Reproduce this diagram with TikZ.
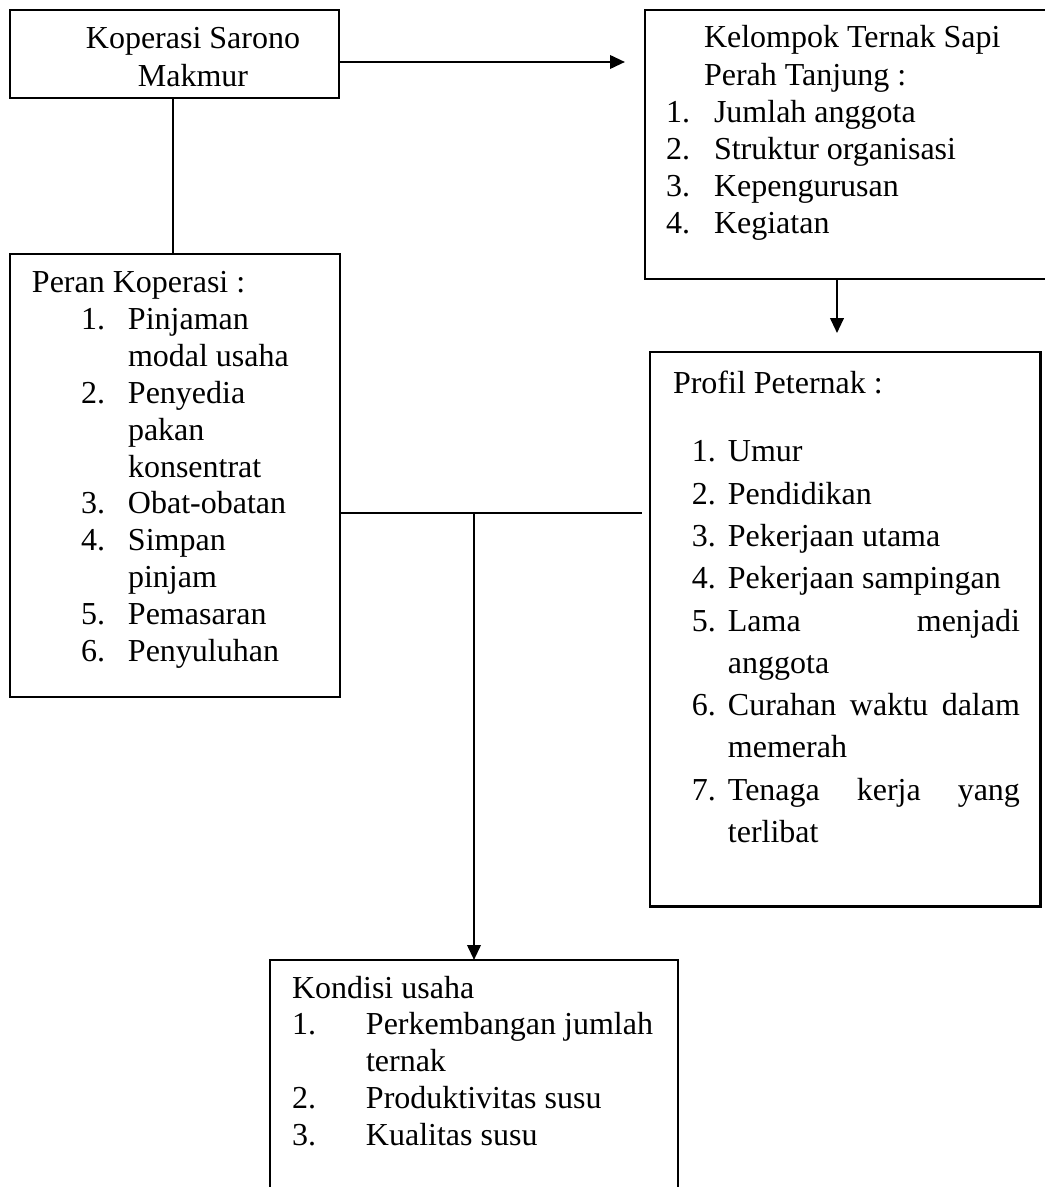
\documentclass[tikz,border=0pt]{standalone}
\usepackage{fontspec}
\setmainfont{Liberation Serif}
\usetikzlibrary{arrows.meta}

\begin{document}
\begin{tikzpicture}[x=0.375pt, y=-0.375pt,
                    line width=0.75pt,
                    font=\fontsize{12}{13.8}\selectfont]
    \tikzstyle{box}=[draw, rectangle, anchor=north west, inner sep=0pt, outer sep=0pt]
    \tikzstyle{boxbold}=[box, line width=1.1pt]
    \tikzstyle{txt}=[anchor=base west, inner sep=0pt]
    \tikzstyle{link}=[line width=0.4pt]
    \tikzstyle{flow}=[line width=0.95pt, -{Triangle[length=5.6pt, width=5pt]}]

    \useasboundingbox (0,0) rectangle (1044,1187);

    \node[box, minimum width=123.4pt, minimum height=33pt] (kop) at (10,10.5) {};
    \node[box, minimum width=151.9pt, minimum height=100.7pt] (kelompok) at (645,10.5) {};
    \node[box, minimum width=123.75pt, minimum height=165.9pt] (peran) at (10,254.5) {};
    \node[boxbold, minimum width=146.6pt, minimum height=208.1pt] (profil) at (650,352) {};
    \node[box, minimum width=153pt, minimum height=105pt] (kondisi) at (270,960) {};

    \node[anchor=base, inner sep=0pt, font=\fontsize{12}{14.25}\selectfont] (kopTxt) at (193,49)
        {\begin{tabular}[t]{@{}c@{}}Koperasi Sarono\\ Makmur\end{tabular}};
    \node[txt, font=\fontsize{12}{13.9}\selectfont] (kelompokTxt) at (665,48)
        {\begin{tabular}[t]{@{}p{18pt}@{}l@{}}
            \multicolumn{2}{@{}l@{}}{\hspace*{14.25pt}Kelompok Ternak Sapi}\\
            \multicolumn{2}{@{}l@{}}{\hspace*{14.25pt}Perah Tanjung :}\\
            1. & Jumlah anggota\\
            2. & Struktur organisasi\\
            3. & Kepengurusan\\
            4. & Kegiatan
        \end{tabular}};
    \node[txt] (peranTxt) at (31,293)
        {\begin{tabular}[t]{@{}p{18.4pt}@{}p{17.6pt}@{}l@{}}
            \multicolumn{3}{@{}l@{}}{Peran Koperasi :}\\
            & 1. & Pinjaman\\
            &    & modal usaha\\
            & 2. & Penyedia\\
            &    & pakan\\
            &    & konsentrat\\
            & 3. & Obat-obatan\\
            & 4. & Simpan\\
            &    & pinjam\\
            & 5. & Pemasaran\\
            & 6. & Penyuluhan
        \end{tabular}};
    \node[txt, font=\fontsize{12}{15.85}\selectfont] (profilTxt) at (672,393)
        {\begin{tabular}[t]{@{}p{7.1pt}@{}p{13.5pt}@{}p{109.5pt}@{}}
            \multicolumn{3}{@{}l@{}}{Profil Peternak :}\\[10pt]
            & 1. & Umur\\
            & 2. & Pendidikan\\
            & 3. & Pekerjaan utama\\
            & 4. & Pekerjaan sampingan\\
            & 5. & Lama \hfill menjadi\\
            &    & anggota\\
            & 6. & Curahan \hfill waktu \hfill dalam\\
            &    & memerah\\
            & 7. & Tenaga \hfill kerja \hfill yang\\
            &    & terlibat
        \end{tabular}};
    \node[txt] (kondisiTxt) at (291,998)
        {\begin{tabular}[t]{@{}p{27.75pt}@{}l@{}}
            \multicolumn{2}{@{}l@{}}{Kondisi usaha}\\
            1. & Perkembangan jumlah\\
               & ternak\\
            2. & Produktivitas susu\\
            3. & Kualitas susu
        \end{tabular}};

    \coordinate (cabang) at (474,512);

    \draw[flow, shorten >=7.5pt] (kop.east |- 0,62) -- (kelompok.west |- 0,62);
    \draw[flow, shorten >=7.1pt] (kelompok.south -| 837,0) -- (profil.north -| 837,0);
    \draw[link] (kop.south -| 173,0) -- (peran.north -| 173,0);
    \draw[link, shorten >=3pt] (peran.east |- 0,513) -- (profil.west |- 0,513);
    \draw[flow] (cabang) -- (kondisi.north -| cabang);
\end{tikzpicture}
\end{document}
